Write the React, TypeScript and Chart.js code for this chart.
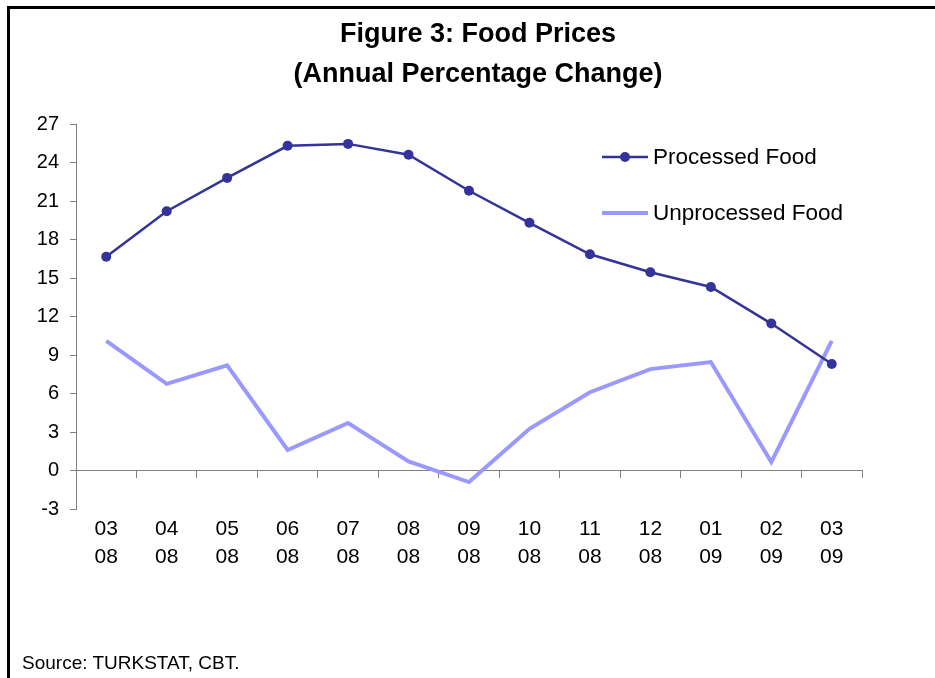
import React, { useEffect, useRef } from "react";
import { Chart, registerables } from "chart.js";

Chart.register(...registerables);

// ---- Data ----
const monthLabels = ["03", "04", "05", "06", "07", "08", "09", "10", "11", "12", "01", "02", "03"];
const yearLabels = ["08", "08", "08", "08", "08", "08", "08", "08", "08", "08", "09", "09", "09"];
const processedFood = [16.65, 20.2, 22.8, 25.3, 25.45, 24.6, 21.8, 19.3, 16.85, 15.45, 14.3, 11.45, 8.3];
const unprocessedFood = [10.1, 6.75, 8.2, 1.6, 3.7, 0.7, -0.9, 3.25, 6.1, 7.9, 8.45, 0.65, 10.1];
const seriesNames = ["Processed Food", "Unprocessed Food"];
const yMin = -3;
const yMax = 27;
const yStep = 3;
const titleLines = ["Figure 3: Food Prices", "(Annual Percentage Change)"];
const sourceNote = "Source: TURKSTAT, CBT.";

const FONT = '"Liberation Sans", Arial, Helvetica, sans-serif';

const insideLegend = {
  id: "insideLegend",
  afterDraw(chart: any) {
    const ctx = chart.ctx;
    const x0 = 602;
    const x1 = 648;
    chart.data.datasets.forEach((ds: any, i: number) => {
      const y = 157 + i * 56;
      ctx.save();
      ctx.strokeStyle = ds.borderColor;
      ctx.lineWidth = ds.borderWidth;
      ctx.beginPath();
      ctx.moveTo(x0, y);
      ctx.lineTo(x1, y);
      ctx.stroke();
      if (ds.pointRadius > 0) {
        ctx.fillStyle = ds.pointBackgroundColor;
        ctx.beginPath();
        ctx.arc((x0 + x1) / 2, y, ds.pointRadius, 0, Math.PI * 2);
        ctx.fill();
      }
      ctx.fillStyle = "#000";
      ctx.font = `22.5px ${FONT}`;
      ctx.textBaseline = "middle";
      ctx.textAlign = "left";
      ctx.fillText(ds.label, 653, y + 1);
      ctx.restore();
    });
  },
};

export default function App() {
  const canvasRef = useRef<HTMLCanvasElement>(null);

  useEffect(() => {
    const canvas = canvasRef.current;
    if (!canvas) return;
    const labels = monthLabels.map((m, i) => [m, yearLabels[i]]);
    const chart = new Chart(canvas, {
      type: "line",
      data: {
        labels,
        datasets: [
          {
            label: seriesNames[0],
            data: processedFood,
            borderColor: "#333399",
            backgroundColor: "#333399",
            pointBackgroundColor: "#333399",
            pointBorderColor: "#333399",
            pointBorderWidth: 0,
            pointRadius: 5,
            borderWidth: 2.5,
            tension: 0,
            xAxisID: "x",
            yAxisID: "y",
          },
          {
            label: seriesNames[1],
            data: unprocessedFood,
            borderColor: "#9999ff",
            backgroundColor: "#9999ff",
            pointRadius: 0,
            borderWidth: 4,
            tension: 0,
            xAxisID: "x",
            yAxisID: "y",
          },
        ],
      },
      options: {
        animation: false,
        responsive: false,
        maintainAspectRatio: false,
        devicePixelRatio: 1,
        layout: { padding: { top: 124, right: 73, bottom: 109, left: 0 } },
        plugins: {
          legend: { display: false },
          tooltip: { enabled: false },
          title: { display: false },
        },
        scales: {
          x: {
            type: "category",
            position: "bottom",
            offset: true,
            border: { display: false },
            grid: { display: false, drawTicks: false },
            ticks: {
              autoSkip: false,
              maxRotation: 0,
              minRotation: 0,
              padding: 7,
              color: "#000",
              font: { family: FONT, size: 21, lineHeight: 1.3 },
            },
            afterFit(scale: any) {
              scale.height = 60;
            },
          },
          x2: {
            type: "category",
            labels,
            position: { y: 0 },
            offset: true,
            border: { display: true, color: "#808080", width: 1 },
            grid: {
              display: true,
              offset: true,
              drawOnChartArea: false,
              drawTicks: true,
              tickLength: 7,
              color: "#808080",
            },
            ticks: { display: false },
            afterFit(scale: any) {
              scale.height = 0;
            },
          },
          y: {
            type: "linear",
            position: "left",
            min: yMin,
            max: yMax,
            border: { display: true, color: "#808080", width: 1 },
            grid: {
              display: true,
              drawOnChartArea: false,
              drawTicks: true,
              tickLength: 6,
              color: "#808080",
            },
            ticks: {
              stepSize: yStep,
              padding: 11,
              color: "#000",
              font: { family: FONT, size: 20 },
            },
            afterFit(scale: any) {
              scale.width = 76;
            },
          },
        },
      },
      plugins: [insideLegend],
    });
    return () => chart.destroy();
  }, []);

  return (
    <div
      style={{
        position: "absolute",
        left: 0,
        top: 0,
        width: 935,
        height: 678,
        overflow: "hidden",
        background: "#fff",
        fontFamily: FONT,
      }}
    >
      <canvas ref={canvasRef} width={935} height={678} style={{ position: "absolute", left: 0, top: 0, width: 935, height: 678 }} />
      <div style={{ position: "absolute", left: 7, top: 6, width: 3, height: 672, background: "#000" }} />
      <div style={{ position: "absolute", left: 7, top: 6, width: 928, height: 3, background: "#000" }} />
      <div
        style={{
          position: "absolute",
          left: 0,
          top: 13,
          width: 956,
          textAlign: "center",
          fontWeight: "bold",
          fontSize: 27,
          lineHeight: "40px",
          color: "#000",
        }}
      >
        {titleLines.map((t) => (
          <div key={t}>{t}</div>
        ))}
      </div>
      <div
        style={{
          position: "absolute",
          left: 22,
          top: 652,
          fontSize: 19,
          lineHeight: "22px",
          color: "#000",
          whiteSpace: "nowrap",
        }}
      >
        {sourceNote}
      </div>
    </div>
  );
}
